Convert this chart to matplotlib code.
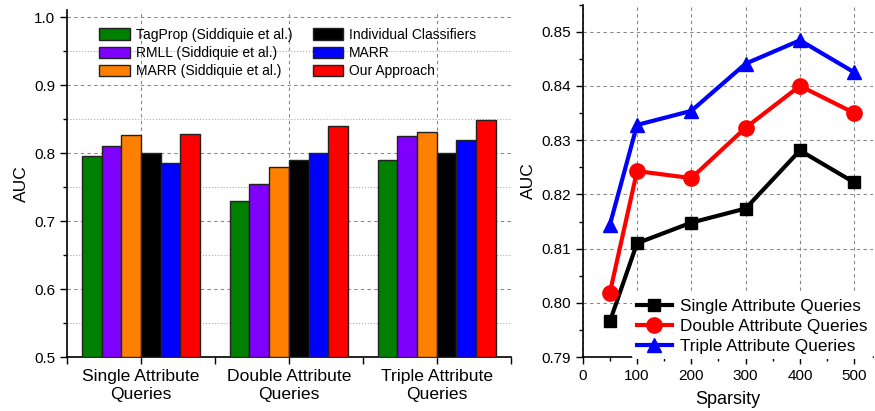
"""AUC comparison: grouped bars by query type (left) and AUC vs sparsity (right)."""

import numpy as np
import matplotlib
matplotlib.use("Agg")
import matplotlib.pyplot as plt
from matplotlib.ticker import MultipleLocator, FormatStrFormatter

plt.rcParams["font.family"] = ["Liberation Sans", "DejaVu Sans"]

# -----------------------------------------------------------------------
# Data
# -----------------------------------------------------------------------
GROUPS = ["Single Attribute\nQueries", "Double Attribute\nQueries", "Triple Attribute\nQueries"]
METHODS = ["TagProp (Siddiquie et al.)", "RMLL (Siddiquie et al.)", "MARR (Siddiquie et al.)",
           "Individual Classifiers", "MARR", "Our Approach"]
METHOD_COLORS = ["#008000", "#8000ff", "#ff8000", "#000000", "#0000ff", "#ff0000"]
tagprop = [0.796, 0.730, 0.790]
rmll = [0.810, 0.755, 0.825]
marr_sidd = [0.826, 0.780, 0.831]
indiv = [0.800, 0.790, 0.800]
marr = [0.785, 0.800, 0.820]
ours = [0.828, 0.840, 0.848]
BAR_VALUES = [tagprop, rmll, marr_sidd, indiv, marr, ours]

sparsity = [50, 100, 200, 300, 400, 500]
single_q = [0.7966, 0.8110, 0.8148, 0.8174, 0.8281, 0.8222]
double_q = [0.8019, 0.8243, 0.8230, 0.8323, 0.8400, 0.8350]
triple_q = [0.8144, 0.8328, 0.8354, 0.8441, 0.8484, 0.8425]
LINES = [
    ("Single Attribute Queries", single_q, "black", "s", 9),
    ("Double Attribute Queries", double_q, "red", "o", 11),
    ("Triple Attribute Queries", triple_q, "blue", "^", 10),
]

FS = 11
GRID_KW = dict(color="#888888", linestyle=(0, (3, 3)), linewidth=0.8)


def style_axes(ax):
    ax.spines["top"].set_visible(False)
    ax.spines["right"].set_visible(False)
    for s in ("left", "bottom"):
        ax.spines[s].set_linewidth(1.2)
    ax.tick_params(which="both", direction="out", width=1.0, labelsize=FS)
    ax.tick_params(which="major", length=5)
    ax.tick_params(which="minor", length=3)


fig = plt.figure(figsize=(8.75, 4.11), dpi=100)

# -----------------------------------------------------------------------
# Left: grouped bars
# -----------------------------------------------------------------------
ax1 = fig.add_axes([0.0766, 0.131, 0.507, 0.844])
style_axes(ax1)
x = np.arange(1, len(GROUPS) + 1)
n = len(METHODS)
w = 0.8 / n
for i, (name, vals, col) in enumerate(zip(METHODS, BAR_VALUES, METHOD_COLORS)):
    ax1.bar(x + (i - (n - 1) / 2) * w, np.array(vals) - 0.5, bottom=0.5, width=w,
            color=col, edgecolor="#222222", linewidth=1.0, label=name, zorder=3)

ax1.set_xlim(0.5, 3.5)
ax1.set_ylim(0.5, 1.01)
ax1.set_xticks(x)
ax1.set_xticklabels(GROUPS, fontsize=12.6, linespacing=1.25)
ax1.xaxis.set_minor_locator(MultipleLocator(0.5))
ax1.tick_params(axis="x", which="minor", length=5)
ax1.set_yticks(np.arange(0.5, 1.01, 0.1))
ax1.yaxis.set_minor_locator(MultipleLocator(0.05))
ax1.yaxis.set_major_formatter(FormatStrFormatter("%.1f"))
ax1.grid(True, axis="y", which="major", zorder=0, **GRID_KW)
ax1.grid(True, axis="y", which="minor", color="#aaaaaa", linestyle=":", linewidth=0.8, zorder=0)
ax1.grid(True, axis="x", which="major", zorder=0, **GRID_KW)
ax1.set_axisbelow(True)
ax1.set_ylabel("AUC", fontsize=12.5, labelpad=4)
ax1.legend(ncol=2, loc="upper left", bbox_to_anchor=(0.045, 0.985), frameon=False,
           fontsize=10, handlelength=2.2, handleheight=0.9, handletextpad=0.4,
           labelspacing=0.3, columnspacing=1.5)

# -----------------------------------------------------------------------
# Right: AUC vs sparsity
# -----------------------------------------------------------------------
ax2 = fig.add_axes([0.666, 0.131, 0.332, 0.858])
style_axes(ax2)
for name, vals, col, mk, ms in LINES:
    ax2.plot(sparsity, vals, color=col, marker=mk, markersize=ms, linewidth=3,
             label=name, zorder=3)

ax2.set_xlim(0, 535)
ax2.set_ylim(0.79, 0.855)
ax2.set_xticks(np.arange(0, 501, 100))
ax2.xaxis.set_minor_locator(MultipleLocator(50))
ax2.set_yticks(np.arange(0.79, 0.851, 0.01))
ax2.yaxis.set_minor_locator(MultipleLocator(0.005))
ax2.yaxis.set_major_formatter(FormatStrFormatter("%.2f"))
ax2.grid(True, which="major", zorder=0, **GRID_KW)
ax2.set_xlabel("Sparsity", fontsize=13, labelpad=6)
ax2.set_ylabel("AUC", fontsize=12.5, labelpad=4)
leg = ax2.legend(loc="lower right", bbox_to_anchor=(1.01, -0.015), frameon=True,
                 fontsize=12.3, handlelength=2.0, handletextpad=0.5,
                 labelspacing=0.3, borderpad=0.3, borderaxespad=0.2)
leg.get_frame().set_edgecolor("none")
leg.get_frame().set_facecolor("white")
leg.get_frame().set_alpha(1.0)

fig.savefig("out.png", dpi=100)
